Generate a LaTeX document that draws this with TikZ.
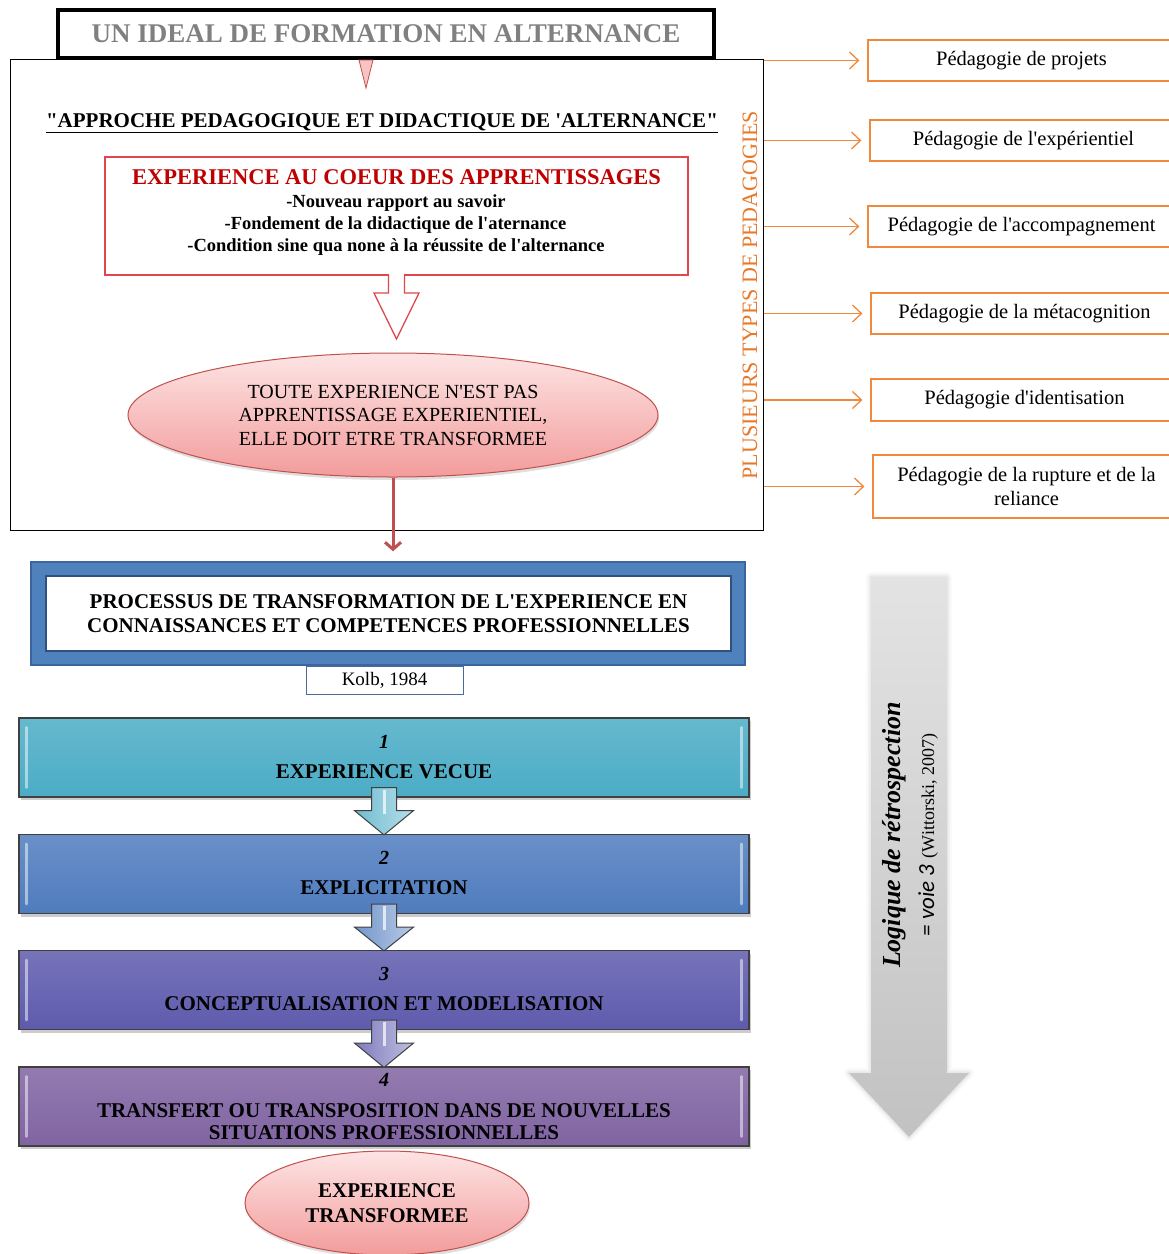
\documentclass[tikz,border=0pt]{standalone}
\usepackage{fontspec}
\setmainfont{Liberation Serif}[Ligatures=TeXOff]
\newfontfamily\voiefont{Carlito}
\usetikzlibrary{arrows.meta,shapes.geometric,shadows,calc}

\definecolor{titlegray}{HTML}{808080}
\definecolor{corered}{HTML}{C00000}
\definecolor{coreline}{HTML}{E0474C}
\definecolor{ellline}{HTML}{C0504D}
\definecolor{elltop}{HTML}{FDE4E4}
\definecolor{ellbot}{HTML}{F29C9B}
\definecolor{pedorange}{HTML}{F0883E}
\definecolor{pedtext}{HTML}{E8782A}
\definecolor{procblue}{HTML}{4F81BD}
\definecolor{procdark}{HTML}{3B64A0}
\definecolor{kolbline}{HTML}{4A6A9C}
\definecolor{barline}{HTML}{404040}
\definecolor{stepA}{HTML}{4BACC6}
\definecolor{stepB}{HTML}{4F7CBE}
\definecolor{stepC}{HTML}{5E5BAD}
\definecolor{stepD}{HTML}{8064A2}

\newcommand\stagefont{\fontsize{21}{22}\selectfont\bfseries}
\newcommand\numfont{\fontsize{20}{22}\selectfont\bfseries\itshape}
\newcommand\pointfont{\fontsize{18.5}{22}\selectfont\bfseries}

% block arrow between two successive stage bars
\newcommand\flowstep[3]{%
  \draw[flowarrow, left color=#3!80!white, right color=#3!40!white]
    ($(#1.south)+(-12.5,-10)$) -- ($(#1.south)+(-12.5,13)$) -- ($(#1.south)+(-29.5,13)$)
    -- ($(#2.north)+(0,1)$) -- ($(#1.south)+(29.5,13)$) -- ($(#1.south)+(12.5,13)$)
    -- ($(#1.south)+(12.5,-10)$) -- cycle;
  \draw[white, opacity=.7, line width=3pt] ($(#1.south)+(0,-8)$) -- ($(#1.south)+(0,16)$);
}

\begin{document}
\begin{tikzpicture}[x=1pt,y=-1pt,
  txt/.style={inner sep=0pt, align=center},
  stagebar/.style={draw=barline, line width=1.2pt, minimum width=730pt, minimum height=79pt,
    inner sep=0pt, drop shadow={shadow xshift=2pt, shadow yshift=-3pt, opacity=0.4}},
  pedbox/.style={draw=pedorange, line width=1.2pt, minimum width=307pt, inner sep=0pt,
    align=center, font=\fontsize{20.5}{24}\selectfont},
  pedarrow/.style={pedorange, line width=1.3pt,
    -{Straight Barb[length=9pt,width=17pt,line width=1.3pt]}, shorten >=8pt},
  flowarrow/.style={draw=barline, line width=1pt, line join=miter},
  pinkell/.style={ellipse, draw=ellline, line width=1pt, top color=elltop, bottom color=ellbot,
    inner sep=0pt, align=center, drop shadow={shadow xshift=1pt, shadow yshift=-3pt, opacity=.25}}
]
\useasboundingbox (0,0) rectangle (1169,1254);
\clip (0,0) rectangle (1169,1254);
\fill[white] (0,0) rectangle (1169,1254);

% ---------- upper frame ----------
\node[draw, line width=1pt, minimum width=753pt, minimum height=471pt, inner sep=0pt] (frame) at (386.5,294.5) {};
\node[draw, line width=4pt, fill=white, minimum width=656pt, minimum height=48pt, inner sep=0pt,
  text=titlegray, font=\fontsize{27}{30}\selectfont\bfseries] (title) at (386,34)
  {UN IDEAL DE FORMATION EN ALTERNANCE};
\draw[ellline, fill=ellbot!60!white, line width=.8pt] (359,60) -- (373,60) -- (366,88) -- cycle;

\node[anchor=base, inner sep=0pt, font=\fontsize{21}{24}\selectfont\bfseries] (approach) at (382,127.5)
  {\underline{"APPROCHE PEDAGOGIQUE ET DIDACTIQUE DE 'ALTERNANCE"}};

\node[draw=coreline, line width=1.3pt, minimum width=583pt, minimum height=118pt, inner sep=0pt] (core) at (396.5,216) {};
\node[txt, text=corered, font=\fontsize{22.5}{24}\selectfont\bfseries] (coretitle) at (396.5,177) {EXPERIENCE AU COEUR DES APPRENTISSAGES};
\node[txt, font=\pointfont] (cl1) at (396,203) {-Nouveau rapport au savoir};
\node[txt, font=\pointfont] (cl2) at (395.5,225) {-Fondement de la didactique de l'aternance};
\node[txt, font=\pointfont] (cl3) at (396,247) {-Condition sine qua none à la réussite de l'alternance};

% hollow arrow out of the red box
\fill[white] (389.2,273) rectangle (403.8,277);
\draw[coreline, line width=1.3pt, line join=miter]
  (388.5,275) -- (388.5,293) -- (374,293) -- (396.5,339) -- (419,293) -- (404.5,293) -- (404.5,275);

\node[pinkell, minimum width=530pt, minimum height=124pt, font=\fontsize{20}{23.5}\selectfont] (toute) at (393,415)
  {TOUTE EXPERIENCE N'EST PAS\\APPRENTISSAGE EXPERIENTIEL,\\ELLE DOIT ETRE TRANSFORMEE};

% ---------- pedagogies ----------
\node[txt, rotate=90, text=pedtext, font=\fontsize{22}{24}\selectfont] (plusieurs) at (750,295) {PLUSIEURS TYPES DE PEDAGOGIES};

\node[pedbox, minimum height=41pt] (p1) at (1021.5,60.5) {Pédagogie de projets};
\node[pedbox, minimum height=41pt] (p2) at (1023.5,140.5) {Pédagogie de l'expérientiel};
\node[pedbox, minimum height=41pt] (p3) at (1021.5,226.5) {Pédagogie de l'accompagnement};
\node[pedbox, minimum height=41pt] (p4) at (1024.5,313.5) {Pédagogie de la métacognition};
\node[pedbox, minimum height=42pt] (p5) at (1024.5,400) {Pédagogie d'identisation};
\node[pedbox, minimum height=63pt] (p6) at (1026.5,486.5) {Pédagogie de la rupture et de la\\reliance};
\foreach \p in {p1,p2,p3,p4,p5,p6}
  \draw[pedarrow] (frame.east |- \p.west) -- (\p.west);

% ---------- transformation process ----------
\node[draw=procdark, line width=1.5pt, fill=procblue, minimum width=714pt, minimum height=103pt, inner sep=0pt] (proc) at (388,613.5) {};
\node[draw=procdark!80!black, line width=1.5pt, fill=white, minimum width=685pt, minimum height=75pt, inner sep=0pt,
  align=center, font=\fontsize{21}{24}\selectfont\bfseries] (proctext) at (388.5,613.5)
  {PROCESSUS DE TRANSFORMATION DE L'EXPERIENCE EN\\CONNAISSANCES ET COMPETENCES PROFESSIONNELLES};
\node[draw=kolbline, line width=1pt, fill=white, minimum width=157pt, minimum height=28pt, inner sep=0pt,
  font=\fontsize{19}{20}\selectfont] (kolb) at (384.5,680) {Kolb, 1984};

\draw[ellline, line width=3pt, -{Straight Barb[length=7pt,width=16pt,line width=3pt]}]
  (toute.south) -- ($(toute.south |- proc.north)+(0,-10)$);

% ---------- four stages ----------
\node[stagebar, top color=stepA!85!white, bottom color=stepA] (s1) at (384,757.5) {};
\node[stagebar, top color=stepB!85!white, bottom color=stepB] (s2) at (384,874) {};
\node[stagebar, top color=stepC!85!white, bottom color=stepC] (s3) at (384,990) {};
\node[stagebar, top color=stepD!85!white, bottom color=stepD] (s4) at (384,1106.5) {};
\foreach \s in {s1,s2,s3,s4}{
  \draw[white, opacity=.5, line width=2.5pt, line cap=round] ($(\s.north west)+(8,10)$) -- ($(\s.south west)+(8,-10)$);
  \draw[white, opacity=.5, line width=2.5pt, line cap=round] ($(\s.north east)+(-8,10)$) -- ($(\s.south east)+(-8,-10)$);
}
\flowstep{s1}{s2}{stepA}
\flowstep{s2}{s3}{stepB}
\flowstep{s3}{s4}{stepC}

\node[txt, font=\numfont] (n1) at (384,742) {1};
\node[txt, font=\stagefont] (l1) at (384,772) {EXPERIENCE VECUE};
\node[txt, font=\numfont] (n2) at (384,858) {2};
\node[txt, font=\stagefont] (l2) at (384,888) {EXPLICITATION};
\node[txt, font=\numfont] (n3) at (384,974) {3};
\node[txt, font=\stagefont] (l3) at (384,1004) {CONCEPTUALISATION ET MODELISATION};
\node[txt, font=\numfont] (n4) at (384,1080) {4};
\node[txt, font=\stagefont] (l4) at (384,1121.5) {TRANSFERT OU TRANSPOSITION DANS DE NOUVELLES\\SITUATIONS PROFESSIONNELLES};

\node[pinkell, minimum width=284pt, minimum height=104pt, font=\fontsize{21}{25}\selectfont\bfseries] (final) at (387,1203)
  {EXPERIENCE\\TRANSFORMEE};

% ---------- retrospection arrow ----------
\foreach \w/\o in {10/0.04,6/0.06,3/0.08}
  \draw[gray, line width=\w pt, opacity=\o, line join=round]
    (871,577) -- (947,577) -- (947,1073) -- (969,1073) -- (909,1137) -- (849,1073) -- (871,1073) -- cycle;
\shade[top color=gray!22, middle color=gray!4, bottom color=gray!48]
  (871,577) -- (947,577) -- (947,1073) -- (969,1073) -- (909,1137) -- (849,1073) -- (871,1073) -- cycle;
\node[txt, rotate=90, font=\fontsize{26}{34}\selectfont] (retro) at (910,835)
  {{\bfseries\itshape Logique de rétrospection}\\{\voiefont\itshape\fontsize{23}{34}\selectfont = voie 3} {\fontsize{18}{34}\selectfont(Wittorski, 2007)}};
\end{tikzpicture}
\end{document}
